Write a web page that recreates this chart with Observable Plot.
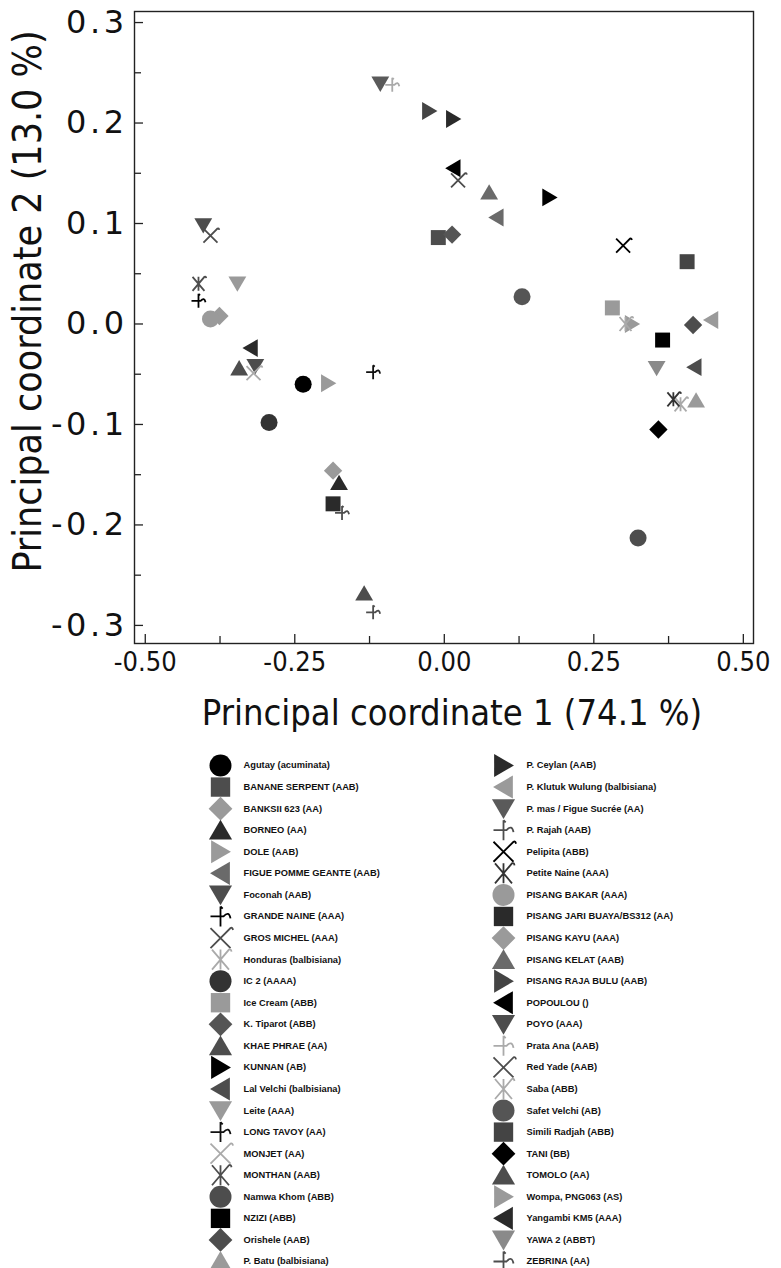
<!DOCTYPE html>
<html><head><meta charset="utf-8">
<script src="https://cdn.jsdelivr.net/npm/d3@7"></script>
<script src="https://cdn.jsdelivr.net/npm/@observablehq/plot@0.6"></script>
<style>
body{margin:0;background:#fff;}
svg{display:block}
</style></head><body><div id="chart"></div><div id="legend"></div>
<script>
const cultivars = ["Agutay (acuminata)","BANANE SERPENT (AAB)","BANKSII 623 (AA)","BORNEO (AA)","DOLE (AAB)","FIGUE POMME GEANTE (AAB)","Foconah (AAB)","GRANDE NAINE (AAA)","GROS MICHEL (AAA)","Honduras (balbisiana)","IC 2 (AAAA)","Ice Cream (ABB)","K. Tiparot (ABB)","KHAE PHRAE (AA)","KUNNAN (AB)","Lal Velchi (balbisiana)","Leite (AAA)","LONG TAVOY (AA)","MONJET (AA)","MONTHAN (AAB)","Namwa Khom (ABB)","NZIZI (ABB)","Orishele (AAB)","P. Batu (balbisiana)",
"P. Ceylan (AAB)","P. Klutuk Wulung (balbisiana)","P. mas / Figue Sucrée (AA)","P. Rajah (AAB)","Pelipita (ABB)","Petite Naine (AAA)","PISANG BAKAR (AAA)","PISANG JARI BUAYA/BS312 (AA)","PISANG KAYU (AAA)","PISANG KELAT (AAB)","PISANG RAJA BULU (AAB)","POPOULOU ()","POYO (AAA)","Prata Ana (AAB)","Red Yade (AAB)","Saba (ABB)","Safet Velchi (AB)","Simili Radjah (ABB)","TANI (BB)","TOMOLO (AA)","Wompa, PNG063 (AS)","Yangambi KM5 (AAA)","YAWA 2 (ABBT)","ZEBRINA (AA)"];

const pc1 = [-0.236,-0.010,-0.376,-0.176,-0.194,0.087,-0.403,-0.411,-0.391,0.395,-0.293,0.281,0.013,-0.343,0.176,0.418,-0.346,-0.119,-0.319,-0.411,0.324,0.365,0.416,0.421,
0.015,0.446,-0.107,-0.171,0.299,0.383,-0.391,-0.186,-0.186,0.075,-0.025,0.015,-0.316,-0.087,0.023,0.303,0.130,0.406,0.358,-0.134,0.314,-0.324,0.355,-0.119];

const pc2 = [-0.060,0.086,0.008,-0.158,-0.059,0.106,0.098,0.023,0.088,-0.080,-0.098,0.016,0.089,-0.044,0.126,-0.043,0.040,-0.048,-0.049,0.040,-0.213,-0.016,-0.001,-0.076,
0.204,0.004,0.239,-0.188,0.078,-0.075,0.005,-0.179,-0.146,0.131,0.212,0.155,-0.042,0.238,0.143,0.000,0.027,0.062,-0.105,-0.268,0.000,-0.024,-0.044,-0.287];

const shapes = ["circle","square","diamond","up","right","left","down","hplus","times","aster",
"circle","square","diamond","up","right","left","down","hplus","times","aster",
"circle","square","diamond","up","right","left","down","hplus","times","aster",
"circle","square","diamond","up","right","left","down","hplus","times","aster",
"circle","square","diamond","up","right","left","down","hplus"];

const tones = ["#000000","#4d4d4d","#9a9a9a","#2a2a2a","#9a9a9a","#6a6a6a","#4d4d4d","#000000","#4d4d4d","#aaaaaa",
"#333333","#9a9a9a","#555555","#4d4d4d","#000000","#4d4d4d","#9a9a9a","#111111","#aaaaaa","#4d4d4d",
"#4d4d4d","#000000","#4d4d4d","#9a9a9a","#2a2a2a","#9a9a9a","#5a5a5a","#4d4d4d","#000000","#333333",
"#9a9a9a","#2a2a2a","#9a9a9a","#6a6a6a","#444444","#000000","#4d4d4d","#aaaaaa","#4d4d4d","#aaaaaa",
"#555555","#444444","#000000","#4d4d4d","#9a9a9a","#2a2a2a","#8a8a8a","#4d4d4d"];

const xTicks = [-0.5,-0.25,0,0.25,0.5];
const xMinor = [-0.375,-0.125,0.125,0.375];
const yTicks = [-0.3,-0.2,-0.1,0,0.1,0.2,0.3];
const yMinor = [-0.25,-0.15,-0.05,0.05,0.15,0.25];
const xTitle = "Principal coordinate 1 (74.1 %)";
const yTitle = "Principal coordinate 2 (13.0 %)";

// ---- symbol definitions ----
const R = size => Math.sqrt(size / Math.PI);
function poly(pts){ return {draw(ctx,size){ const r=R(size); ctx.moveTo(pts[0][0]*r,pts[0][1]*r); for (const p of pts.slice(1)) ctx.lineTo(p[0]*r,p[1]*r); ctx.closePath(); }}; }
const upPts = [[0,-0.95],[1.05,0.85],[-1.05,0.85]];
const symDefs = {
  circle: {draw(ctx,size){ const r=R(size); ctx.moveTo(r,0); ctx.arc(0,0,r,0,2*Math.PI); }},
  square: poly([[-0.88,-0.88],[0.88,-0.88],[0.88,0.88],[-0.88,0.88]]),
  diamond: poly([[0,-1.08],[1.08,0],[0,1.08],[-1.08,0]]),
  up: poly(upPts),
  right: poly(upPts.map(([x,y])=>[-y,x])),
  left: poly(upPts.map(([x,y])=>[y,-x])),
  down: poly(upPts.map(([x,y])=>[x,-y])),
  hplus: {draw(ctx,size){ const r=R(size);
    ctx.moveTo(0,-r); ctx.lineTo(0,r);
    ctx.moveTo(-r,0); ctx.lineTo(0.3*r,0); ctx.quadraticCurveTo(0.85*r,-0.6*r,r,0.2*r);
    ctx.moveTo(0,-r); ctx.lineTo(0.22*r,-0.78*r); }},
  times: {draw(ctx,size){ const r=R(size);
    ctx.moveTo(-r,-r); ctx.lineTo(r,r); ctx.moveTo(-r,r); ctx.lineTo(r,-r);
    ctx.quadraticCurveTo(1.2*r,-1.1*r,1.25*r,-0.8*r); }},
  aster: {draw(ctx,size){ const r=R(size);
    ctx.moveTo(-0.85*r,-r); ctx.lineTo(0.85*r,r); ctx.moveTo(-0.85*r,r); ctx.lineTo(0.85*r,-r);
    ctx.quadraticCurveTo(1.05*r,-1.1*r,1.1*r,-0.8*r);
    ctx.moveTo(0,-r); ctx.lineTo(0,r); }}
};
const shapeNames = Object.keys(symDefs);
const lineShapes = new Set(["hplus","times","aster"]);

const rows = cultivars.map((name,i)=>({name, x:pc1[i], y:pc2[i], shape:shapes[i], tone:tones[i], col: i<24?0:1, row: i<24?i:i-24}));
const filled = rows.filter(d=>!lineShapes.has(d.shape));
const lined = rows.filter(d=>lineShapes.has(d.shape));

const W = 781, H = 740, mL = 134, mR = 28, mT = 11, mB = 97;
const fw = W-mL-mR, fh = H-mT-mB;

const main = Plot.plot({
  width: W, height: H,
  marginLeft: mL, marginRight: mR, marginTop: mT, marginBottom: mB,
  x: {domain: [-0.518, 0.517]},
  y: {domain: [-0.318, 0.311]},
  color: {type: "identity"},
  symbol: {domain: shapeNames, range: shapeNames.map(k=>symDefs[k])},
  style: {fontFamily: "'DejaVu Sans Condensed', 'DejaVu Sans', sans-serif", background: "#fff", color: "#111"},
  marks: [
    Plot.frame({stroke: "#222", strokeWidth: 1.4}),
    Plot.ruleX(xTicks, {insetTop: fh-9, stroke: "#222", strokeWidth: 1.3}),
    Plot.ruleX(xMinor, {insetTop: fh-7, stroke: "#222", strokeWidth: 1.3}),
    Plot.ruleY(yTicks, {insetRight: fw-9, stroke: "#222", strokeWidth: 1.3}),
    Plot.ruleY(yMinor, {insetRight: fw-7, stroke: "#222", strokeWidth: 1.3}),
    Plot.axisX(xTicks, {tickSize: 0, tickPadding: 8, tickFormat: d=>d.toFixed(2), fontSize: 27, label: null}),
    Plot.axisY(yTicks, {tickSize: 0, tickPadding: 7, tickFormat: d=>d.toFixed(1), fontSize: 32, fontFamily: "'DejaVu Sans', sans-serif", label: null}),
    Plot.text([xTitle], {text: d=>d, frameAnchor: "bottom", dx: 8, dy: 70, fontSize: 36, textAnchor: "middle", lineAnchor: "middle"}),
    Plot.text([yTitle], {text: d=>d, frameAnchor: "left", dx: -106, dy: -26, rotate: -90, fontSize: 39, textAnchor: "middle", lineAnchor: "middle"}),
    Plot.dot(filled, {x: "x", y: "y", symbol: "shape", fill: "tone", r: 8.5}),
    Plot.dot(lined, {x: "x", y: "y", symbol: "shape", stroke: "tone", fill: "none", r: 7, strokeWidth: 1.8})
  ]
});
main.querySelectorAll('[aria-label="y-axis tick label"]').forEach(g => g.setAttribute("letter-spacing", "3.5"));
document.getElementById("chart").appendChild(main);

const legend = Plot.plot({
  width: W, height: 528, margin: 0,
  x: {domain: [0,1], range: [220,503], axis: null},
  y: {domain: [0,23], range: [25,521], axis: null},
  color: {type: "identity"},
  symbol: {domain: shapeNames, range: shapeNames.map(k=>symDefs[k])},
  style: {fontFamily: "'Liberation Sans', Arial, sans-serif", background: "#fff"},
  marks: [
    Plot.dot(filled, {x: "col", y: "row", symbol: "shape", fill: "tone", r: 11}),
    Plot.dot(lined, {x: "col", y: "row", symbol: "shape", stroke: "tone", fill: "none", r: 10, strokeWidth: 1.8}),
    Plot.text(rows, {x: "col", y: "row", text: "name", dx: 23, textAnchor: "start", fontSize: 9.3, fontWeight: "bold", fill: "#111"})
  ]
});
document.getElementById("legend").appendChild(legend);
</script>
</body></html>
